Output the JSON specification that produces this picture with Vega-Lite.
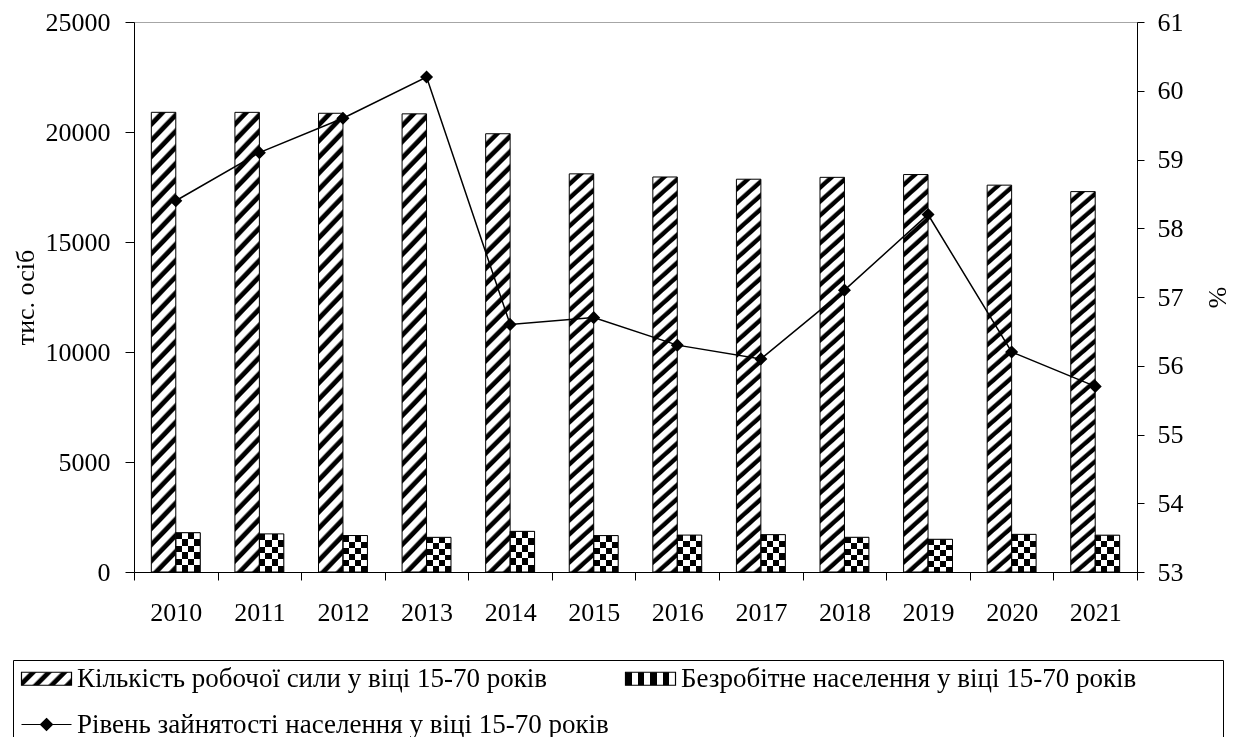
{
"$schema":"https://vega.github.io/schema/vega-lite/v6.json",
"width":1003,"height":550,
"autosize":{"type":"none"},
"padding":{"left":134,"top":22,"right":103,"bottom":165},
"background":"white",
"config":{
"view":{"stroke":"#a6a6a6","strokeWidth":1},
"font":"Liberation Serif",
"axis":{"domainColor":"black","domainWidth":1,"tickColor":"black","tickWidth":1,"labelColor":"black","titleColor":"black","labelFont":"Liberation Serif","titleFont":"Liberation Serif","labelFontSize":26,"titleFontSize":26,"titleFontWeight":"normal","grid":false},
"legend":{"labelFont":"Liberation Serif","labelFontSize":27,"labelColor":"black"}
},
"datasets":{
"bars":[
{"year":"2010","series":"Кількість робочої сили у віці 15-70 років","value":20894.6},
{"year":"2010","series":"Безробітне населення у віці 15-70 років","value":1785.6},
{"year":"2011","series":"Кількість робочої сили у віці 15-70 років","value":20893.0},
{"year":"2011","series":"Безробітне населення у віці 15-70 років","value":1732.7},
{"year":"2012","series":"Кількість робочої сили у віці 15-70 років","value":20851.0},
{"year":"2012","series":"Безробітне населення у віці 15-70 років","value":1657.2},
{"year":"2013","series":"Кількість робочої сили у віці 15-70 років","value":20824.6},
{"year":"2013","series":"Безробітне населення у віці 15-70 років","value":1576.5},
{"year":"2014","series":"Кількість робочої сили у віці 15-70 років","value":19920.9},
{"year":"2014","series":"Безробітне населення у віці 15-70 років","value":1847.6},
{"year":"2015","series":"Кількість робочої сили у віці 15-70 років","value":18097.9},
{"year":"2015","series":"Безробітне населення у віці 15-70 років","value":1654.7},
{"year":"2016","series":"Кількість робочої сили у віці 15-70 років","value":17955.1},
{"year":"2016","series":"Безробітне населення у віці 15-70 років","value":1678.2},
{"year":"2017","series":"Кількість робочої сили у віці 15-70 років","value":17854.4},
{"year":"2017","series":"Безробітне населення у віці 15-70 років","value":1698.0},
{"year":"2018","series":"Кількість робочої сили у віці 15-70 років","value":17939.0},
{"year":"2018","series":"Безробітне населення у віці 15-70 років","value":1578.6},
{"year":"2019","series":"Кількість робочої сили у віці 15-70 років","value":18066.0},
{"year":"2019","series":"Безробітне населення у віці 15-70 років","value":1487.7},
{"year":"2020","series":"Кількість робочої сили у віці 15-70 років","value":17584.0},
{"year":"2020","series":"Безробітне населення у віці 15-70 років","value":1711.0},
{"year":"2021","series":"Кількість робочої сили у віці 15-70 років","value":17290.0},
{"year":"2021","series":"Безробітне населення у віці 15-70 років","value":1674.1}
],
"rate":[
{"year":"2010","series":"Рівень зайнятості населення у віці 15-70 років","rate":58.4},
{"year":"2011","series":"Рівень зайнятості населення у віці 15-70 років","rate":59.1},
{"year":"2012","series":"Рівень зайнятості населення у віці 15-70 років","rate":59.6},
{"year":"2013","series":"Рівень зайнятості населення у віці 15-70 років","rate":60.2},
{"year":"2014","series":"Рівень зайнятості населення у віці 15-70 років","rate":56.6},
{"year":"2015","series":"Рівень зайнятості населення у віці 15-70 років","rate":56.7},
{"year":"2016","series":"Рівень зайнятості населення у віці 15-70 років","rate":56.3},
{"year":"2017","series":"Рівень зайнятості населення у віці 15-70 років","rate":56.1},
{"year":"2018","series":"Рівень зайнятості населення у віці 15-70 років","rate":57.1},
{"year":"2019","series":"Рівень зайнятості населення у віці 15-70 років","rate":58.2},
{"year":"2020","series":"Рівень зайнятості населення у віці 15-70 років","rate":56.2},
{"year":"2021","series":"Рівень зайнятості населення у віці 15-70 років","rate":55.7}
]
},
"encoding":{
"x":{"field":"year","type":"ordinal","title":null,"scale":{"paddingInner":0,"paddingOuter":0},"axis":{"labelAngle":0,"tickBand":"extent","tickSize":8,"labelPadding":19,"title":null}}
},
"layer":[
{"data":{"name":"bars"},
"encoding":{
"xOffset":{"field":"series","type":"nominal","scale":{"domain":["Кількість робочої сили у віці 15-70 років","Безробітне населення у віці 15-70 років"],"paddingInner":0,"paddingOuter":0.709}},
"y":{"field":"value","type":"quantitative","scale":{"domain":[0,25000],"nice":false},"axis":{"orient":"left","title":"тис. осіб","values":[0,5000,10000,15000,20000,25000],"format":"d","tickSize":9,"labelPadding":15,"titlePadding":7}}
},
"layer":[
{"mark":{"type":"bar"},
"encoding":{
"fill":{"field":"series","type":"nominal",
"condition":[
{"test":"datum.series === 'Кількість робочої сили у віці 15-70 років'","value":{"gradient":"linear","x1":0,"y1":0,"x2":0.0583,"y2":1.052,"stops":[
{"offset":0,"color":"#fff"},{"offset":0.015,"color":"#fff"},{"offset":0.02,"color":"#000"},{"offset":0.03,"color":"#000"},
{"offset":0.0333,"color":"#fff"},{"offset":0.0483,"color":"#fff"},{"offset":0.0533,"color":"#000"},{"offset":0.0633,"color":"#000"},
{"offset":0.0667,"color":"#fff"},{"offset":0.0817,"color":"#fff"},{"offset":0.0867,"color":"#000"},{"offset":0.0967,"color":"#000"},
{"offset":0.1,"color":"#fff"},{"offset":0.115,"color":"#fff"},{"offset":0.12,"color":"#000"},{"offset":0.13,"color":"#000"},
{"offset":0.1333,"color":"#fff"},{"offset":0.1483,"color":"#fff"},{"offset":0.1533,"color":"#000"},{"offset":0.1633,"color":"#000"},
{"offset":0.1667,"color":"#fff"},{"offset":0.1817,"color":"#fff"},{"offset":0.1867,"color":"#000"},{"offset":0.1967,"color":"#000"},
{"offset":0.2,"color":"#fff"},{"offset":0.215,"color":"#fff"},{"offset":0.22,"color":"#000"},{"offset":0.23,"color":"#000"},
{"offset":0.2333,"color":"#fff"},{"offset":0.2483,"color":"#fff"},{"offset":0.2533,"color":"#000"},{"offset":0.2633,"color":"#000"},
{"offset":0.2667,"color":"#fff"},{"offset":0.2817,"color":"#fff"},{"offset":0.2867,"color":"#000"},{"offset":0.2967,"color":"#000"},
{"offset":0.3,"color":"#fff"},{"offset":0.315,"color":"#fff"},{"offset":0.32,"color":"#000"},{"offset":0.33,"color":"#000"},
{"offset":0.3333,"color":"#fff"},{"offset":0.3483,"color":"#fff"},{"offset":0.3533,"color":"#000"},{"offset":0.3633,"color":"#000"},
{"offset":0.3667,"color":"#fff"},{"offset":0.3817,"color":"#fff"},{"offset":0.3867,"color":"#000"},{"offset":0.3967,"color":"#000"},
{"offset":0.4,"color":"#fff"},{"offset":0.415,"color":"#fff"},{"offset":0.42,"color":"#000"},{"offset":0.43,"color":"#000"},
{"offset":0.4333,"color":"#fff"},{"offset":0.4483,"color":"#fff"},{"offset":0.4533,"color":"#000"},{"offset":0.4633,"color":"#000"},
{"offset":0.4667,"color":"#fff"},{"offset":0.4817,"color":"#fff"},{"offset":0.4867,"color":"#000"},{"offset":0.4967,"color":"#000"},
{"offset":0.5,"color":"#fff"},{"offset":0.515,"color":"#fff"},{"offset":0.52,"color":"#000"},{"offset":0.53,"color":"#000"},
{"offset":0.5333,"color":"#fff"},{"offset":0.5483,"color":"#fff"},{"offset":0.5533,"color":"#000"},{"offset":0.5633,"color":"#000"},
{"offset":0.5667,"color":"#fff"},{"offset":0.5817,"color":"#fff"},{"offset":0.5867,"color":"#000"},{"offset":0.5967,"color":"#000"},
{"offset":0.6,"color":"#fff"},{"offset":0.615,"color":"#fff"},{"offset":0.62,"color":"#000"},{"offset":0.63,"color":"#000"},
{"offset":0.6333,"color":"#fff"},{"offset":0.6483,"color":"#fff"},{"offset":0.6533,"color":"#000"},{"offset":0.6633,"color":"#000"},
{"offset":0.6667,"color":"#fff"},{"offset":0.6817,"color":"#fff"},{"offset":0.6867,"color":"#000"},{"offset":0.6967,"color":"#000"},
{"offset":0.7,"color":"#fff"},{"offset":0.715,"color":"#fff"},{"offset":0.72,"color":"#000"},{"offset":0.73,"color":"#000"},
{"offset":0.7333,"color":"#fff"},{"offset":0.7483,"color":"#fff"},{"offset":0.7533,"color":"#000"},{"offset":0.7633,"color":"#000"},
{"offset":0.7667,"color":"#fff"},{"offset":0.7817,"color":"#fff"},{"offset":0.7867,"color":"#000"},{"offset":0.7967,"color":"#000"},
{"offset":0.8,"color":"#fff"},{"offset":0.815,"color":"#fff"},{"offset":0.82,"color":"#000"},{"offset":0.83,"color":"#000"},
{"offset":0.8333,"color":"#fff"},{"offset":0.8483,"color":"#fff"},{"offset":0.8533,"color":"#000"},{"offset":0.8633,"color":"#000"},
{"offset":0.8667,"color":"#fff"},{"offset":0.8817,"color":"#fff"},{"offset":0.8867,"color":"#000"},{"offset":0.8967,"color":"#000"},
{"offset":0.9,"color":"#fff"},{"offset":0.915,"color":"#fff"},{"offset":0.92,"color":"#000"},{"offset":0.93,"color":"#000"},
{"offset":0.9333,"color":"#fff"},{"offset":0.9483,"color":"#fff"},{"offset":0.9533,"color":"#000"},{"offset":0.9633,"color":"#000"},
{"offset":0.9667,"color":"#fff"},{"offset":0.9817,"color":"#fff"},{"offset":0.9867,"color":"#000"},{"offset":0.9967,"color":"#000"},
{"offset":1,"color":"#fff"}
]}},
{"test":"datum.series === 'Безробітне населення у віці 15-70 років'","value":{"gradient":"linear","x1":0,"y1":0,"x2":1,"y2":0,"stops":[
{"offset":0,"color":"#fff"},{"offset":0.25,"color":"#fff"},{"offset":0.25,"color":"#000"},{"offset":0.5,"color":"#000"},
{"offset":0.5,"color":"#fff"},{"offset":0.75,"color":"#fff"},{"offset":0.75,"color":"#000"},{"offset":1,"color":"#000"}]}}
],
"scale":{"domain":["Кількість робочої сили у віці 15-70 років","Рівень зайнятості населення у віці 15-70 років","Безробітне населення у віці 15-70 років"],
"range":[
{"expr":"{gradient:'linear',x1:0,y1:0,x2:1.18,y2:0.307,stops:[{offset:0,color:'#fff'},{offset:0.1125,color:'#fff'},{offset:0.15,color:'#000'},{offset:0.225,color:'#000'},{offset:0.25,color:'#fff'},{offset:0.3625,color:'#fff'},{offset:0.4,color:'#000'},{offset:0.475,color:'#000'},{offset:0.5,color:'#fff'},{offset:0.6125,color:'#fff'},{offset:0.65,color:'#000'},{offset:0.725,color:'#000'},{offset:0.75,color:'#fff'},{offset:0.8625,color:'#fff'},{offset:0.9,color:'#000'},{offset:0.975,color:'#000'},{offset:1,color:'#fff'}]}"},
"black",
{"expr":"{gradient:'linear',x1:0,y1:0,x2:1,y2:0,stops:[{offset:0,color:'#000'},{offset:0.125,color:'#000'},{offset:0.125,color:'#fff'},{offset:0.25,color:'#fff'},{offset:0.25,color:'#000'},{offset:0.375,color:'#000'},{offset:0.375,color:'#fff'},{offset:0.5,color:'#fff'},{offset:0.5,color:'#000'},{offset:0.625,color:'#000'},{offset:0.625,color:'#fff'},{offset:0.75,color:'#fff'},{offset:0.75,color:'#000'},{offset:0.875,color:'#000'},{offset:0.875,color:'#fff'},{offset:1,color:'#fff'}]}"}
]},
"legend":{"orient":"none","legendX":-121,"legendY":638,"columns":2,"direction":"vertical","title":null,"strokeColor":"black","padding":5,"symbolSize":400,"symbolOffset":15,"labelOffset":17,"labelLimit":1000,"labelFontSize":27,"rowPadding":18,"columnPadding":13,"symbolStrokeColor":"black","symbolStrokeWidth":1.2,
"labelExpr":"datum.label === 'Безробітне населення у віці 15-70 років' ? datum.label + '\u00a0\u00a0\u00a0\u00a0\u00a0\u00a0\u00a0\u00a0\u00a0\u00a0\u00a0\u00a0\u200b' : datum.label"}}
}},
{"transform":[{"filter":{"field":"series","equal":"Безробітне населення у віці 15-70 років"}}],
"mark":{"type":"bar","strokeWidth":0,"blend":"difference","fill":{"gradient":"linear","x1":0,"y1":0,"x2":0,"y2":1,"stops":[
{"offset":0,"color":"#fff"},{"offset":0.1667,"color":"#fff"},{"offset":0.1667,"color":"#000"},{"offset":0.3333,"color":"#000"},
{"offset":0.3333,"color":"#fff"},{"offset":0.5,"color":"#fff"},{"offset":0.5,"color":"#000"},{"offset":0.6667,"color":"#000"},
{"offset":0.6667,"color":"#fff"},{"offset":0.8333,"color":"#fff"},{"offset":0.8333,"color":"#000"},{"offset":1,"color":"#000"}]}}
},
{"mark":{"type":"bar","fill":"transparent","strokeWidth":1},
"encoding":{
"stroke":{"field":"series","type":"nominal","scale":{"domain":["Кількість робочої сили у віці 15-70 років","Рівень зайнятості населення у віці 15-70 років","Безробітне населення у віці 15-70 років"],"range":["black","black","black"]},
"legend":{"orient":"none","legendX":-121,"legendY":638,"columns":2,"direction":"vertical","title":null,"strokeColor":"black","padding":5,"symbolSize":400,"symbolOffset":15,"labelOffset":17,"labelLimit":1000,"labelFontSize":27,"rowPadding":18,"columnPadding":13,"symbolStrokeColor":"black","symbolStrokeWidth":1.2,
"labelExpr":"datum.label === 'Безробітне населення у віці 15-70 років' ? datum.label + '\u00a0\u00a0\u00a0\u00a0\u00a0\u00a0\u00a0\u00a0\u00a0\u00a0\u00a0\u00a0\u200b' : datum.label"}}
}}
]},
{"data":{"name":"rate"},
"mark":{"type":"line","color":"black","strokeWidth":1.5,"point":{"filled":true,"color":"black","size":470}},
"encoding":{
"y":{"field":"rate","type":"quantitative","scale":{"domain":[53,61],"nice":false,"zero":false},"axis":{"orient":"right","title":"%","values":[53,54,55,56,57,58,59,60,61],"format":"d","tickSize":7,"labelPadding":13,"titlePadding":20}},
"shape":{"field":"series","type":"nominal","scale":{"domain":["Кількість робочої сили у віці 15-70 років","Рівень зайнятості населення у віці 15-70 років","Безробітне населення у віці 15-70 років"],"range":["M-2.5,-0.65H2.5V0.65H-2.5Z","M-2.5,0H2.5M0,-0.6L0.6,0L0,0.6L-0.6,0Z","M-2.5,-0.65H2.5V0.65H-2.5Z"]},
"legend":{"orient":"none","legendX":-121,"legendY":638,"columns":2,"direction":"vertical","title":null,"strokeColor":"black","padding":5,"symbolSize":400,"symbolOffset":15,"labelOffset":17,"labelLimit":1000,"labelFontSize":27,"rowPadding":18,"columnPadding":13,"symbolStrokeColor":"black","symbolStrokeWidth":1.2,
"labelExpr":"datum.label === 'Безробітне населення у віці 15-70 років' ? datum.label + '\u00a0\u00a0\u00a0\u00a0\u00a0\u00a0\u00a0\u00a0\u00a0\u00a0\u00a0\u00a0\u200b' : datum.label"}}
}}
],
"resolve":{"scale":{"y":"independent"}}
}
